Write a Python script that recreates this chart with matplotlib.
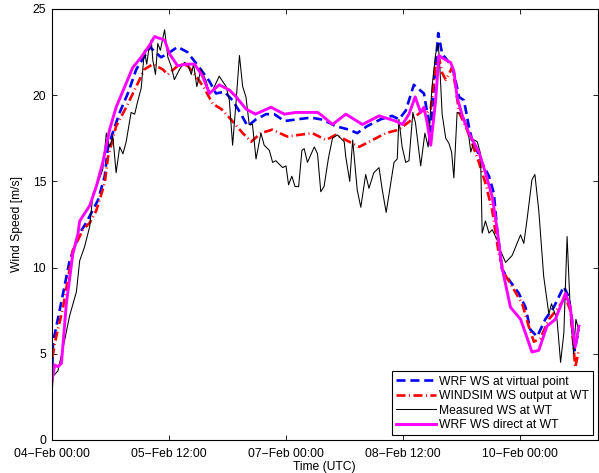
import matplotlib

matplotlib.use("Agg")
import matplotlib.pyplot as plt

# hours since 04-Feb 00:00 (UTC) and wind speed [m/s]
WRF_VP_HOURS = [0.2, 0.4, 0.9, 3.5, 5.5, 8.6, 10.6, 14.2, 16.3, 17.3, 20.9, 23.4,
                26.0, 29.0, 30.1, 33.6, 35.6, 38.7, 41.7, 45.4, 48.5, 50.5, 53.1,
                55.6, 58.2, 60.2, 62.8, 65.9, 68.4, 71.5, 75.5, 79.7, 82.7, 85.3,
                87.3, 91.4, 93.9, 96.9, 101.1, 104.6, 106.7, 108.8, 111.3, 114.4,
                115.3, 116.5, 117.5, 118.8, 120.0, 122.1, 123.6, 125.2, 126.7,
                128.2, 129.2, 130.7, 132.2, 134.4, 135.9, 136.8, 138.4, 140.5,
                143.6, 145.6, 147.1, 149.2, 151.7, 154.3, 157.4, 158.9, 159.9,
                160.7, 162.0]
WRF_VP_WS = [4.3, 5.6, 6.1, 8.5, 10.4, 12.0, 12.6, 13.9, 15.3, 17.0, 19.0, 20.1,
             21.5, 22.4, 22.8, 22.2, 22.4, 22.8, 22.5, 21.6, 20.8, 20.1, 20.2,
             19.7, 18.9, 18.2, 18.6, 18.9, 18.9, 18.5, 18.6, 18.7, 18.6, 18.4,
             18.2, 18.0, 17.8, 18.2, 18.6, 18.8, 18.6, 19.1, 20.6, 20.1,
             19.1, 17.9, 20.7, 23.6, 22.4, 21.9, 21.3, 19.9, 19.7,
             18.2, 17.4, 16.8, 16.1, 15.3, 14.3, 12.4, 9.9, 9.3,
             8.5, 7.7, 6.4, 6.0, 7.0, 7.7, 8.9, 8.3, 7.0,
             5.2, 6.4]

WINDSIM_HOURS = [0.2, 1.4, 3.5, 6.5, 9.6, 11.7, 13.7, 16.3, 17.3, 19.8, 22.9,
                 27.0, 28.5, 31.1, 34.1, 35.7, 39.3, 41.8, 44.4, 46.9, 49.5,
                 52.1, 54.6, 58.7, 61.3, 64.3, 67.8, 72.4, 76.1, 80.1, 84.3,
                 87.3, 90.4, 94.5, 98.6, 102.7, 106.7, 110.8, 113.9, 115.4,
                 116.5, 118.0, 119.0, 120.0, 121.1, 123.1, 124.1, 125.2, 127.2,
                 129.2, 131.3, 133.3, 135.4, 137.4, 139.0, 141.5, 144.6, 146.6,
                 148.2, 150.2, 152.8, 155.8, 157.9, 159.4, 160.4, 160.9, 162.0]
WINDSIM_WS = [4.8, 6.0, 7.7, 11.0, 12.2, 12.6, 13.3, 14.9, 16.4, 18.2, 19.3,
              20.9, 21.5, 21.8, 21.5, 21.2, 21.8, 21.7, 21.1, 20.4, 19.5,
              19.2, 18.7, 17.8, 17.3, 17.8, 18.0, 17.6, 17.7, 17.8, 17.4,
              17.7, 17.4, 17.0, 17.4, 17.8, 18.0, 18.6, 19.1, 19.0,
              19.2, 21.8, 22.2, 21.3, 20.9, 21.6, 20.5, 19.0, 18.2,
              17.2, 16.1, 14.9, 13.3, 10.8, 9.7, 8.9, 7.9, 6.6,
              5.7, 5.9, 7.0, 7.7, 8.3, 7.5, 5.4, 4.2, 5.2]

MEASURED_HOURS = [0.0, 0.4, 1.9, 4.0, 5.5, 7.6, 8.6, 10.1, 11.7, 12.7, 14.2,
                  15.7, 16.8, 17.8, 18.8, 19.8, 20.9, 21.9, 22.9, 24.4, 25.5,
                  26.5, 27.5, 28.5, 29.2, 29.8, 30.6, 31.1, 31.9, 32.6, 33.4,
                  34.7, 35.7, 36.7, 37.7, 39.3, 40.8, 41.8, 42.9, 43.6, 44.6,
                  45.9, 47.5, 48.5, 49.5, 51.5, 53.6, 54.6, 55.6, 56.7, 57.7,
                  58.7, 59.7, 60.7, 61.7, 62.8, 64.3, 65.3, 66.9, 67.9, 68.9,
                  69.9, 71.0, 72.0, 72.8, 73.8, 74.8, 75.9, 76.9, 77.6, 78.6,
                  80.7, 81.7, 82.7, 83.7, 85.1, 86.3, 87.8, 89.9, 90.4, 91.6,
                  92.5, 93.9, 95.0, 96.5, 97.5, 99.0, 100.6, 101.6, 102.8,
                  104.2, 105.2, 106.2, 106.7, 107.7, 108.8, 109.8, 111.0,
                  111.8, 113.4, 114.7, 115.7, 116.9, 118.0, 118.8, 119.3,
                  120.0, 121.1, 122.1, 122.9, 123.6, 124.6, 126.2, 127.8,
                  128.8, 129.9, 130.8, 131.8, 132.3, 133.3, 134.4, 135.4,
                  136.9, 137.9, 139.5, 141.5, 143.0, 144.1, 145.1, 146.1,
                  147.6, 148.5, 149.7, 151.2, 152.8, 153.6, 155.3, 156.4,
                  157.4, 158.4, 159.4, 160.4, 161.1, 161.8]
MEASURED_WS = [1.9, 3.7, 4.0, 5.8, 7.2, 8.6, 10.4, 11.2, 12.4, 14.3, 14.9,
               15.7, 17.8, 17.0, 17.6, 15.5, 17.0, 16.6, 17.3, 19.0, 18.9,
               19.7, 20.4, 22.6, 21.8, 22.6, 23.2, 22.0, 21.2, 23.0, 22.6,
               23.8, 22.2, 21.7, 20.9, 21.5, 21.9, 21.8, 21.2, 21.8, 20.5,
               21.5, 20.8, 20.1, 20.3, 21.1, 20.5, 19.7, 17.1, 19.7, 22.3,
               20.5, 19.9, 18.3, 18.3, 16.3, 17.8, 17.1, 16.8, 16.1, 16.2,
               16.0, 15.8, 15.9, 14.8, 15.3, 14.7, 14.7, 16.8, 16.9, 16.1,
               17.0, 16.6, 14.4, 14.7, 16.4, 17.5, 17.7, 17.3, 16.4, 15.0,
               17.4, 14.5, 13.5, 15.4, 14.6, 15.5, 15.8, 14.5, 13.2,
               14.9, 16.1, 16.3, 18.6, 17.0, 16.1, 16.2, 19.0,
               18.4, 15.9, 17.8, 17.0, 20.5, 22.4, 23.0, 21.6,
               18.9, 17.5, 17.2, 16.7, 15.2, 19.0, 18.9, 18.2,
               16.7, 17.4, 17.3, 16.6, 12.0, 12.7, 12.0, 12.2,
               11.6, 11.0, 10.3, 10.7, 11.4, 11.9, 11.4, 12.8,
               15.1, 15.4, 13.3, 9.5, 7.3, 7.9, 7.0, 4.5,
               6.2, 11.8, 7.4, 5.0, 7.0, 6.5]

WRF_WT_HOURS = [0.0, 0.9, 1.9, 3.0, 4.5, 6.5, 8.1, 8.6, 11.7, 13.7, 15.7, 17.8,
                19.8, 22.9, 24.9, 27.5, 30.1, 31.6, 34.7, 36.2, 38.7, 41.3,
                43.9, 46.4, 48.5, 51.5, 54.6, 56.7, 59.7, 62.6, 63.8, 67.4,
                71.5, 75.1, 78.6, 81.7, 83.2, 86.3, 90.4, 95.5, 100.6, 105.7,
                107.8, 109.8, 111.7, 113.4, 114.4, 115.4, 116.5, 118.0, 119.0,
                120.6, 122.6, 123.6, 124.6, 126.2, 128.2, 131.3, 133.3, 135.4,
                136.9, 138.4, 141.0, 144.1, 145.6, 147.6, 149.7, 152.2, 154.8,
                157.9, 159.4, 160.4, 160.9, 162.0]
WRF_WT_WS = [3.3, 4.35, 4.25, 4.45, 7.9, 10.8, 12.0, 12.7, 13.6, 14.7, 16.1, 18.0,
             19.3, 20.7, 21.6, 22.2, 22.9, 23.4, 23.2, 22.4, 21.7, 21.8,
             21.8, 21.1, 20.1, 20.6, 20.3, 19.9, 19.2, 18.9, 19.0, 19.3,
             18.9, 19.0, 19.0, 19.0, 18.8, 18.3, 18.9, 18.3, 18.8, 18.5,
             18.3, 18.9, 19.9, 19.0, 19.3, 18.4, 17.1, 19.7, 22.3,
             22.1, 21.9, 21.4, 19.9, 18.8, 17.8, 16.7, 15.5, 14.1,
             12.2, 10.0, 7.7, 7.0, 6.2, 5.1, 5.2, 6.6, 7.0,
             8.5, 7.7, 6.0, 5.4, 6.6]

TICK_HOURS = [0, 36, 72, 108, 144]
TICK_LABELS = ["04\u2212Feb 00:00", "05\u2212Feb 12:00", "07\u2212Feb 00:00",
               "08\u2212Feb 12:00", "10\u2212Feb 00:00"]
SERIES_LABELS = ["WRF WS at virtual point", "WINDSIM WS output at WT",
                 "Measured WS at WT", "WRF WS direct at WT"]


def main() -> None:
    plt.rcParams["font.family"] = ["Liberation Sans", "DejaVu Sans"]
    plt.rcParams["font.size"] = 8.7
    plt.rcParams["lines.scale_dashes"] = False

    fig = plt.figure(figsize=(5.99, 4.73), dpi=100)
    ax = fig.add_axes([0.0863, 0.0698, 0.9115, 0.9112])

    ax.plot(WRF_VP_HOURS, WRF_VP_WS, color="#0000ff", linewidth=1.9,
            linestyle=(0, (6.5, 3.5)), label=SERIES_LABELS[0])
    ax.plot(WINDSIM_HOURS, WINDSIM_WS, color="#ff0000", linewidth=1.9,
            linestyle=(0, (6.5, 2.5, 0.7, 2.5)), label=SERIES_LABELS[1])
    ax.plot(MEASURED_HOURS, MEASURED_WS, color="black", linewidth=0.75,
            label=SERIES_LABELS[2])
    ax.plot(WRF_WT_HOURS, WRF_WT_WS, color="#ff00ff", linewidth=2.1,
            label=SERIES_LABELS[3])

    ax.set_xlim(0, 167.8)
    ax.set_ylim(0, 25)
    ax.set_xticks(TICK_HOURS)
    ax.set_xticklabels(TICK_LABELS)
    ax.set_yticks([0, 5, 10, 15, 20, 25])
    ax.tick_params(direction="in", length=3.5, width=0.6, top=True, right=True,
                   pad=4, labelsize=8.7)
    ax.tick_params(axis="x", pad=5.5)
    for spine in ax.spines.values():
        spine.set_linewidth(0.8)

    ax.set_xlabel("Time (UTC)", labelpad=1)
    ax.set_ylabel("Wind Speed [m/s]", labelpad=7)

    leg = ax.legend(loc="lower right", fontsize=8.7, handlelength=3.3,
                    handletextpad=0.2, borderpad=0.35, labelspacing=0.2,
                    borderaxespad=0.4, fancybox=False, framealpha=1,
                    edgecolor="black")
    leg.get_frame().set_linewidth(0.8)

    fig.savefig("out.png", dpi=100)
    plt.close(fig)


if __name__ == "__main__":
    main()
